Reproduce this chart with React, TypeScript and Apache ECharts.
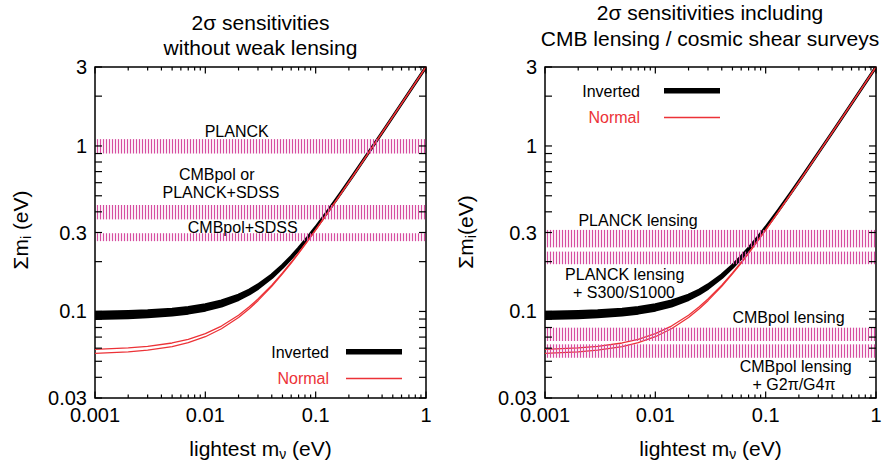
import { useEffect, useRef } from "react";
import * as echarts from "echarts";

const FONT = "'Liberation Sans', Arial, Helvetica, sans-serif";
const RED = "#ec3237";
const STRIPE = "#d64ea0";

// Lightest neutrino mass (eV) and the summed mass ranges for both hierarchies
const LIGHTEST_MASS = [0.001, 0.002, 0.003, 0.005, 0.007, 0.01, 0.014, 0.02, 0.025, 0.03, 0.04, 0.05, 0.06, 0.07, 0.085, 0.1, 0.13, 0.17, 0.22, 0.3, 0.4, 0.55, 0.75, 1.0];
const NORMAL_LOW = [0.05583, 0.05703, 0.05836, 0.06136, 0.06475, 0.07038, 0.07862, 0.09202, 0.10387, 0.1162, 0.14193, 0.16873, 0.19626, 0.22433, 0.26712, 0.31047, 0.39821, 0.51635, 0.66494, 0.90364, 1.20274, 1.65199, 2.25146, 3.0011];
const NORMAL_HIGH = [0.05898, 0.06018, 0.06151, 0.0645, 0.06787, 0.07347, 0.08164, 0.09492, 0.10666, 0.11886, 0.14434, 0.1709, 0.19822, 0.2261, 0.26866, 0.31182, 0.39929, 0.5172, 0.66561, 0.90413, 1.20311, 1.65227, 2.25166, 3.00125];
const INVERTED_LOW = [0.09064, 0.09171, 0.09282, 0.09517, 0.0977, 0.10182, 0.10789, 0.11814, 0.12762, 0.13785, 0.16013, 0.18428, 0.20977, 0.23623, 0.27718, 0.31916, 0.40501, 0.52161, 0.66904, 0.90666, 1.205, 1.65365, 2.25268, 3.00201];
const INVERTED_HIGH = [0.09875, 0.09981, 0.10092, 0.10324, 0.10573, 0.10976, 0.11566, 0.1256, 0.13478, 0.14468, 0.1663, 0.18983, 0.21476, 0.24074, 0.28109, 0.3226, 0.40776, 0.52377, 0.67072, 0.90791, 1.20595, 1.65433, 2.25318, 3.00239];

// 2-sigma sensitivity bands (eV): without weak lensing / with lensing surveys
const LEFT_BAND_LOW = [0.9, 0.36, 0.266];
const LEFT_BAND_HIGH = [1.1, 0.44, 0.297];
const RIGHT_BAND_LOW = [0.244, 0.193, 0.0663, 0.0525];
const RIGHT_BAND_HIGH = [0.311, 0.23, 0.0798, 0.0633];

// Axis ranges and ticks
const X_MIN = 0.001;
const X_MAX = 1;
const Y_MIN = 0.03;
const Y_MAX = 3;
const X_MAJOR = [0.001, 0.01, 0.1, 1];
const X_LABELS = ["0.001", "0.01", "0.1", "1"];
const X_MINOR = [0.002, 0.003, 0.004, 0.005, 0.006, 0.007, 0.008, 0.009, 0.02, 0.03, 0.04, 0.05, 0.06, 0.07, 0.08, 0.09, 0.2, 0.3, 0.4, 0.5, 0.6, 0.7, 0.8, 0.9];
const Y_MAJOR = [0.03, 0.1, 0.3, 1, 3];
const Y_LABELS = ["0.03", "0.1", "0.3", "1", "3"];
const Y_MINOR = [0.04, 0.05, 0.06, 0.07, 0.08, 0.09, 0.2, 0.4, 0.5, 0.6, 0.7, 0.8, 0.9, 2];

const GRIDS = [
  { left: 95, top: 67, width: 331, height: 331 },
  { left: 545, top: 67, width: 331, height: 331 },
];

function bandSeries(g: number, low: number[], high: number[]) {
  return {
    type: "custom",
    xAxisIndex: g,
    yAxisIndex: g,
    z: 6,
    silent: true,
    data: low.map((lo, i) => [lo, high[i]]),
    renderItem: (_p: any, api: any) => {
      const lo = api.value(0);
      const hi = api.value(1);
      const a = api.coord([X_MIN, hi]);
      const b = api.coord([X_MAX, lo]);
      const children: any[] = [];
      for (let x = Math.round(a[0]) + 2.5; x < b[0] - 0.5; x += 3) {
        children.push({
          type: "line",
          shape: { x1: x, y1: a[1], x2: x, y2: b[1] },
          style: { stroke: STRIPE, lineWidth: 1.2 },
        });
      }
      return { type: "group", children };
    },
  };
}

function invertedSeries(g: number) {
  return {
    type: "custom",
    xAxisIndex: g,
    yAxisIndex: g,
    z: 3,
    silent: true,
    clip: true,
    data: [[LIGHTEST_MASS[0], INVERTED_HIGH[0]]],
    renderItem: (_p: any, api: any) => {
      const pts: number[][] = [];
      for (let i = 0; i < LIGHTEST_MASS.length; i++) pts.push(api.coord([LIGHTEST_MASS[i], INVERTED_HIGH[i]]));
      for (let i = LIGHTEST_MASS.length - 1; i >= 0; i--) pts.push(api.coord([LIGHTEST_MASS[i], INVERTED_LOW[i]]));
      return {
        type: "polygon",
        shape: { points: pts },
        style: { fill: "#000", stroke: "#000", lineWidth: 3, lineJoin: "round" },
      };
    },
  };
}

function normalSeries(g: number, values: number[]) {
  return {
    type: "line",
    xAxisIndex: g,
    yAxisIndex: g,
    z: 4,
    silent: true,
    showSymbol: false,
    smooth: false,
    lineStyle: { color: RED, width: 1.3, join: "round" },
    data: LIGHTEST_MASS.map((m, i) => [m, values[i]]),
  };
}

function xTickSeries(g: number) {
  return {
    type: "custom",
    xAxisIndex: g,
    yAxisIndex: g,
    z: 10,
    silent: true,
    data: [...X_MAJOR.map((v) => [v, 1, 6.5]), ...X_MINOR.map((v) => [v, 1, 3.5])],
    renderItem: (_p: any, api: any) => {
      const v = api.value(0);
      const len = api.value(2);
      const b = api.coord([v, Y_MIN]);
      const t = api.coord([v, Y_MAX]);
      return {
        type: "group",
        children: [
          { type: "line", shape: { x1: b[0], y1: b[1], x2: b[0], y2: b[1] - len }, style: { stroke: "#000", lineWidth: 1.2 } },
          { type: "line", shape: { x1: t[0], y1: t[1], x2: t[0], y2: t[1] + len }, style: { stroke: "#000", lineWidth: 1.2 } },
        ],
      };
    },
  };
}

function yTickSeries(g: number) {
  return {
    type: "custom",
    xAxisIndex: g,
    yAxisIndex: g,
    z: 10,
    silent: true,
    data: [...Y_MAJOR.map((v) => [0.01, v, 7]), ...Y_MINOR.map((v) => [0.01, v, 7])],
    renderItem: (_p: any, api: any) => {
      const v = api.value(1);
      const len = api.value(2);
      const l = api.coord([X_MIN, v]);
      const r = api.coord([X_MAX, v]);
      return {
        type: "group",
        children: [
          { type: "line", shape: { x1: l[0], y1: l[1], x2: l[0] + len, y2: l[1] }, style: { stroke: "#000", lineWidth: 1.2 } },
          { type: "line", shape: { x1: r[0], y1: r[1], x2: r[0] - len, y2: r[1] }, style: { stroke: "#000", lineWidth: 1.2 } },
        ],
      };
    },
  };
}

function xLabelSeries(g: number) {
  return {
    type: "custom",
    xAxisIndex: g,
    yAxisIndex: g,
    z: 10,
    silent: true,
    data: X_MAJOR.map((v) => [v, Y_MIN]),
    renderItem: (p: any, api: any) => {
      const c = api.coord([api.value(0), Y_MIN]);
      return {
        type: "text",
        x: c[0],
        y: c[1] + 17,
        style: {
          text: X_LABELS[p.dataIndex],
          fontSize: 20,
          fontFamily: FONT,
          fill: "#000",
          align: "center",
          verticalAlign: "middle",
        },
      };
    },
  };
}

function yLabelSeries(g: number) {
  return {
    type: "custom",
    xAxisIndex: g,
    yAxisIndex: g,
    z: 10,
    silent: true,
    data: Y_MAJOR.map((v) => [X_MIN, v]),
    renderItem: (p: any, api: any) => {
      const c = api.coord([X_MIN, api.value(1)]);
      return {
        type: "text",
        x: c[0] - 8,
        y: c[1],
        style: {
          text: Y_LABELS[p.dataIndex],
          fontSize: 20,
          fontFamily: FONT,
          fill: "#000",
          align: "right",
          verticalAlign: "middle",
        },
      };
    },
  };
}

function label(x: number, y: number, text: string, size: number, extra: any = {}) {
  return {
    type: "text",
    x,
    y,
    z: 1,
    rotation: extra.rotation || 0,
    style: {
      text,
      fontSize: size,
      fontFamily: FONT,
      fill: extra.fill || "#000",
      align: extra.align || "center",
      verticalAlign: "middle",
      rich: extra.rich,
    },
  };
}

const SUB_RICH = {
  a: { fontSize: 21, fontFamily: FONT, lineHeight: 26 },
  s: { fontSize: 14, fontFamily: FONT, lineHeight: 15, verticalAlign: "bottom" },
};

function buildOption() {
  const series: any[] = [];
  const bands = [
    [LEFT_BAND_LOW, LEFT_BAND_HIGH],
    [RIGHT_BAND_LOW, RIGHT_BAND_HIGH],
  ];
  for (let g = 0; g < 2; g++) {
    series.push(invertedSeries(g));
    series.push(normalSeries(g, NORMAL_LOW));
    series.push(normalSeries(g, NORMAL_HIGH));
    series.push(bandSeries(g, bands[g][0], bands[g][1]));
    series.push(xTickSeries(g));
    series.push(yTickSeries(g));
    series.push(xLabelSeries(g));
    series.push(yLabelSeries(g));
  }

  const graphic: any[] = [
    // titles
    label(260.5, 22, "2σ sensitivities", 21),
    label(260.5, 47, "without weak lensing", 21),
    label(710, 12.5, "2σ sensitivities including", 21),
    label(710, 38.5, "CMB lensing / cosmic shear surveys", 21),
    // axis titles
    label(260.5, 448, "{a|lightest m}{s|ν}{a| (eV)}", 21, { rich: SUB_RICH }),
    label(710.5, 448, "{a|lightest m}{s|ν}{a| (eV)}", 21, { rich: SUB_RICH }),
    label(20, 230, "{a|Σm}{s|i}{a| (eV)}", 21, { rich: SUB_RICH, rotation: Math.PI / 2 }),
    label(465, 232, "{a|Σm}{s|i}{a|(eV)}", 21, { rich: SUB_RICH, rotation: Math.PI / 2 }),
    // band annotations, left panel
    label(236.7, 131, "PLANCK", 16),
    label(216.7, 174, "CMBpol or", 16),
    label(221, 192.7, "PLANCK+SDSS", 16),
    label(242.7, 227.7, "CMBpol+SDSS", 16),
    // band annotations, right panel
    label(638, 220.7, "PLANCK lensing", 16),
    label(624.7, 274.3, "PLANCK lensing", 16),
    label(624, 292.3, "+ S300/S1000", 16),
    label(788.5, 317.3, "CMBpol lensing", 16),
    label(795.7, 366, "CMBpol lensing", 16),
    label(794, 384, "+ G2π/G4π", 16),
    // legends
    label(329, 352, "Inverted", 16, { align: "right" }),
    { type: "rect", z: 1, shape: { x: 346, y: 349, width: 56, height: 5.5 }, style: { fill: "#000" } },
    label(329, 378.5, "Normal", 16, { align: "right", fill: RED }),
    { type: "line", z: 1, shape: { x1: 346, y1: 378.5, x2: 402, y2: 378.5 }, style: { stroke: RED, lineWidth: 1.5 } },
    label(640, 91, "Inverted", 16, { align: "right" }),
    { type: "rect", z: 1, shape: { x: 664, y: 88, width: 56, height: 5.5 }, style: { fill: "#000" } },
    label(640, 117.5, "Normal", 16, { align: "right", fill: RED }),
    { type: "line", z: 1, shape: { x1: 664, y1: 117.5, x2: 720, y2: 117.5 }, style: { stroke: RED, lineWidth: 1.5 } },
  ];

  const axisCommon = {
    type: "log",
    logBase: 10,
    axisLine: { show: false },
    axisTick: { show: false },
    axisLabel: { show: false },
    splitLine: { show: false },
  };

  return {
    animation: false,
    backgroundColor: "#fff",
    grid: GRIDS.map((g) => ({ ...g, show: true, borderColor: "#000", borderWidth: 1.5, backgroundColor: "transparent" })),
    xAxis: [0, 1].map((i) => ({ ...axisCommon, gridIndex: i, min: X_MIN, max: X_MAX })),
    yAxis: [0, 1].map((i) => ({ ...axisCommon, gridIndex: i, min: Y_MIN, max: Y_MAX })),
    series,
    graphic,
  };
}

export default function App() {
  const ref = useRef<HTMLDivElement>(null);
  useEffect(() => {
    document.body.style.margin = "0";
    if (!ref.current) return;
    const chart = echarts.init(ref.current, null, { renderer: "svg" });
    chart.setOption(buildOption() as any);
    return () => chart.dispose();
  }, []);
  return <div ref={ref} style={{ width: 883, height: 464 }} />;
}
